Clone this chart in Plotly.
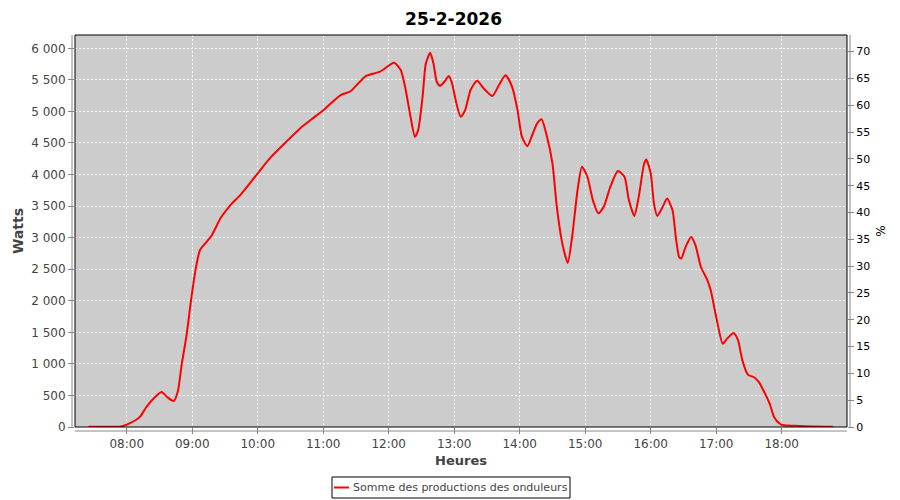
import plotly.graph_objects as go

# production du 25-2-2026 (heure, watts)
jour = "2026-02-25"
heures = [
    "07:25", "07:40", "07:55", "08:03", "08:12", "08:18", "08:26", "08:32", "08:37", "08:43",
    "08:47", "08:50", "08:55", "08:59", "09:03", "09:07", "09:12", "09:18", "09:26", "09:35",
    "09:44", "10:00", "10:12", "10:25", "10:39", "10:53", "11:00", "11:16", "11:25", "11:39",
    "11:52", "12:05", "12:11", "12:15", "12:20", "12:24", "12:27", "12:31", "12:34", "12:38",
    "12:41", "12:44", "12:47", "12:51", "12:55", "12:58", "13:02", "13:06", "13:10", "13:15",
    "13:21", "13:27", "13:35", "13:41", "13:47", "13:53", "13:58", "14:02", "14:07", "14:12",
    "14:16", "14:20", "14:25", "14:30", "14:34", "14:39", "14:44", "14:48", "14:53", "14:57",
    "15:02", "15:07", "15:12", "15:17", "15:23", "15:30", "15:36", "15:40", "15:45", "15:49",
    "15:54", "15:56", "16:00", "16:03", "16:06", "16:11", "16:15", "16:20", "16:23", "16:26",
    "16:28", "16:32", "16:37", "16:41", "16:46", "16:52", "16:55", "17:00", "17:06", "17:10",
    "17:16", "17:20", "17:24", "17:29", "17:35", "17:39", "17:44", "17:49", "17:53", "17:58",
    "18:02", "18:12", "18:30", "18:47",
]
watts = [
    5, 5, 10, 60, 160, 317, 475, 555, 475, 412,
    580, 950, 1480, 2020, 2485, 2800, 2910, 3040, 3310, 3515,
    3675, 4020, 4275, 4500, 4735, 4925, 5020, 5260, 5320, 5560,
    5630, 5770, 5655, 5390, 4915, 4600, 4705, 5230, 5760, 5930,
    5760, 5470, 5405, 5470, 5560, 5445, 5128, 4915, 5020, 5340,
    5485, 5365, 5245, 5420, 5575, 5390, 5020, 4600, 4450, 4650,
    4810, 4875, 4600, 4175, 3490, 2910, 2600, 3010, 3755, 4125,
    3965, 3595, 3385, 3490, 3805, 4055, 3965, 3595, 3345, 3645,
    4175, 4240, 4020, 3540, 3345, 3490, 3620, 3435, 3010, 2695,
    2670, 2855, 3010, 2880, 2535, 2325, 2165, 1745, 1320, 1400,
    1490, 1375, 1055, 830, 785, 715, 555, 370, 160, 55,
    27, 20, 8, 5,
]
serie = "Somme des productions des onduleurs"

x = [f"{jour} {h}" for h in heures]
gris = "#888888"
texte = "#444444"
W, H = 892, 492          # la page ajoute 8px de marge au body
ml, mr, mt, mb = 67, 53, 27, 73
pw, ph = W - ml - mr, H - mt - mb


def px(fx):
    return (fx - ml) / pw


def py(fy):
    return (H - mb - fy) / ph


fig = go.Figure()
fig.add_trace(go.Scatter(x=x, y=watts, mode="lines", name=serie, showlegend=False,
                         line=dict(color="#ff0000", width=2, shape="spline", smoothing=0.6)))
# trace vide pour afficher l'axe des %
fig.add_trace(go.Scatter(x=[x[0]], y=[None], yaxis="y2", showlegend=False, hoverinfo="skip"))

fig.update_layout(
    width=W, height=H, autosize=False,
    margin=dict(l=ml, r=mr, t=mt, b=mb),
    paper_bgcolor="white", plot_bgcolor="#cccccc",
    font=dict(family="DejaVu Sans", size=12, color=texte),
    separators=", ",
    title=dict(text="<b>25-2-2026</b>", x=0.4995, xanchor="center", y=1 - 11 / H, yanchor="middle",
               font=dict(size=17, color="black")),
    showlegend=False,
    xaxis=dict(type="date", range=[f"{jour} 07:12:36", f"{jour} 18:59:50"],
               tick0=f"{jour} 08:00", dtick=3600000, tickformat="%H:%M", automargin=False,
               showgrid=True, gridcolor="white", griddash="2px,2px", gridwidth=1,
               ticks="outside", ticklen=6, tickcolor=gris, showline=False, zeroline=False,
               title=dict(text="<b>Heures</b>", font=dict(size=13, color=texte), standoff=5)),
    yaxis=dict(range=[0, 6211], dtick=500, tickformat=",d", automargin=False,
               showgrid=True, gridcolor="white", griddash="2px,2px", gridwidth=1,
               ticks="outside", ticklen=6, tickcolor=gris, showline=False, zeroline=False,
               title=dict(text="<b>Watts</b>", font=dict(size=14, color=texte), standoff=4)),
    yaxis2=dict(overlaying="y", side="right", range=[0, 73.1], dtick=5, automargin=False,
                showgrid=False, zeroline=False, showline=False,
                ticks="outside", ticklen=6, tickcolor=gris,
                tickfont=dict(size=11, color="black"),
                title=dict(text="%", font=dict(size=12, color="black"), standoff=7)),
)

# bord du graphique et axes décalés
fig.add_shape(type="rect", xref="paper", yref="paper", x0=0, x1=1, y0=0, y1=1,
              line=dict(color="black", width=1), layer="above")
fig.add_shape(type="line", xref="paper", yref="paper", x0=-3 / pw, x1=-3 / pw, y0=0, y1=1,
              line=dict(color=gris, width=1))
fig.add_shape(type="line", xref="paper", yref="paper", x0=1 + 3 / pw, x1=1 + 3 / pw, y0=0, y1=1,
              line=dict(color=gris, width=1))
fig.add_shape(type="line", xref="paper", yref="paper", x0=0, x1=1, y0=-4 / ph, y1=-4 / ph,
              line=dict(color=gris, width=1))

# légende encadrée sous le graphique
fig.add_shape(type="rect", xref="paper", yref="paper", x0=px(324), x1=px(562), y0=py(469), y1=py(490),
              line=dict(color="black", width=1), fillcolor="white")
fig.add_shape(type="line", xref="paper", yref="paper", x0=px(326), x1=px(341), y0=py(479.5), y1=py(479.5),
              line=dict(color="#ff0000", width=2))
fig.add_annotation(xref="paper", yref="paper", x=px(343), y=py(479.5), xanchor="left", yanchor="middle",
                   text=serie, showarrow=False, font=dict(size=11, color=texte))

fig.write_html("out.html")
